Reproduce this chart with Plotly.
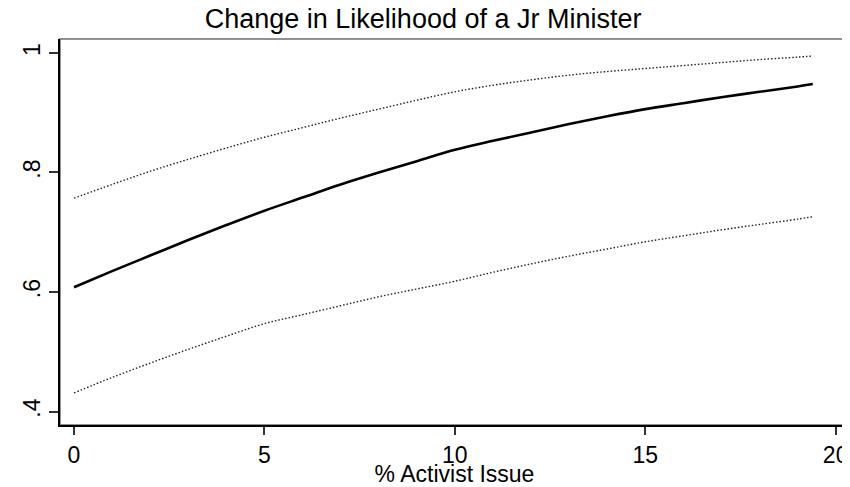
import plotly.graph_objects as go

title = "Change in Likelihood of a Jr Minister"
x_label = "% Activist Issue"

activist_pct = [0, 1, 2, 3, 4, 5, 6, 7, 8, 9, 10, 11, 12, 13, 14, 15, 16, 17, 18, 19, 19.4]
likelihood = [0.608, 0.635, 0.661, 0.687, 0.712, 0.736, 0.758, 0.780, 0.800, 0.819, 0.838,
              0.853, 0.867, 0.881, 0.894, 0.906, 0.916, 0.926, 0.935, 0.944, 0.948]
upper_ci = [0.757, 0.780, 0.802, 0.822, 0.841, 0.859, 0.875, 0.891, 0.906, 0.921, 0.935,
            0.946, 0.955, 0.963, 0.969, 0.974, 0.979, 0.984, 0.989, 0.993, 0.995]
lower_ci = [0.431, 0.457, 0.481, 0.504, 0.526, 0.547, 0.562, 0.577, 0.592, 0.605, 0.618,
            0.633, 0.647, 0.660, 0.672, 0.684, 0.694, 0.704, 0.713, 0.722, 0.726]

x_ticks = [0, 5, 10, 15, 20]
y_ticks = [0.4, 0.6, 0.8, 1.0]
y_ticktext = [".4", ".6", ".8", "1"]

FONT = "Liberation Sans, Arial, sans-serif"

fig = go.Figure()
fig.add_trace(go.Scatter(x=activist_pct, y=upper_ci, mode="lines",
                         line=dict(color="#222222", width=1.4, dash="1.5px,2px", shape="spline"),
                         showlegend=False))
fig.add_trace(go.Scatter(x=activist_pct, y=lower_ci, mode="lines",
                         line=dict(color="#222222", width=1.4, dash="1.5px,2px", shape="spline"),
                         showlegend=False))
fig.add_trace(go.Scatter(x=activist_pct, y=likelihood, mode="lines",
                         line=dict(color="black", width=2.6, shape="spline"),
                         showlegend=False))

fig.add_shape(type="rect", xref="x domain", yref="y domain", x0=0, x1=1, y0=0, y1=1,
              line=dict(color="#6e6e6e", width=1.5), layer="below")

# The page body has an 8px default margin; the figure is sized to fill the rest.
fig.update_layout(
    width=842, height=479,
    margin=dict(l=52, r=1, t=31, b=62),
    paper_bgcolor="white", plot_bgcolor="white",
    font=dict(family=FONT, color="black"),
    title=dict(text=title, x=0.493, xanchor="center", y=0.978, yanchor="middle",
               font=dict(size=27, family=FONT, color="black")),
    xaxis=dict(range=[-0.368, 20.35], tickvals=x_ticks, ticks="outside", ticklen=8,
               tickwidth=1.5, tickcolor="#333333", showline=True, linecolor="black",
               linewidth=2, showgrid=False, zeroline=False, automargin=False,
               tickfont=dict(size=23, family=FONT),
               title=dict(text=x_label, font=dict(size=23, family=FONT), standoff=2)),
    yaxis=dict(range=[0.3774, 1.0234], tickvals=y_ticks, ticktext=y_ticktext,
               ticks="outside", ticklen=9, tickwidth=1.5, tickcolor="#333333",
               showline=True, linecolor="black", linewidth=2, showgrid=False,
               zeroline=False, tickangle=-90, automargin=False,
               tickfont=dict(size=23, family=FONT)),
)

fig.write_html("out.html")
